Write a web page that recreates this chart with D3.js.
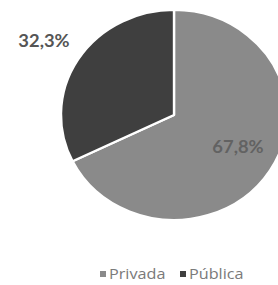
<!DOCTYPE html>
<html><head><meta charset="utf-8">
<script src="https://cdn.jsdelivr.net/npm/d3@7"></script>
<style>body{margin:0;background:#fff;overflow:hidden}svg{display:block}</style>
</head><body>
<script>
const categories = ["Privada", "Pública"];
const values = [67.8, 32.3];
const labels = ["67,8%", "32,3%"];
const colors = ["#8a8a8a", "#3f3f3f"];

const W = 278, H = 285;
const svg = d3.select("body").append("svg").attr("width", W).attr("height", H);
const cx = 174, cy = 115, ry = 105, sx = 113 / 105;

const pie = d3.pie().sort(null).value(d => d)
  .startAngle(0).endAngle(2 * Math.PI);
const arcs = pie(values);
const arc = d3.arc().innerRadius(0).outerRadius(ry);

const g = svg.append("g").attr("transform", `translate(${cx},${cy}) scale(${sx},1)`);
g.selectAll("path").data(arcs).join("path")
  .attr("d", arc)
  .attr("fill", (d, i) => colors[i])
  .attr("stroke", "#fff")
  .attr("stroke-width", 2.2)
  .attr("stroke-linejoin", "round");

const stretch = 1.08;
function label(x, y, txt, fill) {
  svg.append("g").attr("transform", `translate(${x},${y}) scale(${stretch},1)`)
    .append("text").attr("text-anchor", "middle")
    .attr("font-family", "Lato, 'Open Sans', sans-serif")
    .attr("font-weight", "bold").attr("font-size", 17)
    .attr("fill", fill).text(txt);
}
label(238, 153, labels[0], "#626262");
label(44, 47, labels[1], "#555555");

// legend
const legX = [100, 180];
categories.forEach((c, i) => {
  svg.append("rect").attr("x", legX[i]).attr("y", 271).attr("width", 6).attr("height", 6)
    .attr("fill", colors[i]);
  svg.append("g").attr("transform", `translate(${legX[i] + 9},279) scale(${stretch},1)`)
    .append("text")
    .attr("font-family", "'Open Sans', sans-serif")
    .attr("font-size", 15).attr("fill", "#7a7a7a").text(c);
});
</script>
</body></html>
